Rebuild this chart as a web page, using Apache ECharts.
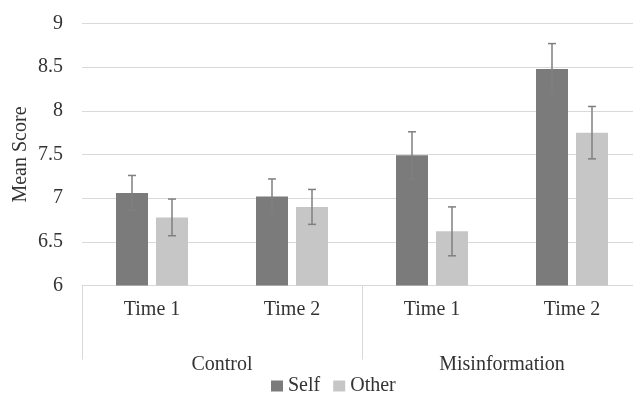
<!DOCTYPE html>
<html>
<head>
<meta charset="utf-8">
<script src="https://cdn.jsdelivr.net/npm/echarts@6/dist/echarts.min.js"></script>
<style>
html,body{margin:0;padding:0;background:#fff;}
#chart{width:633px;height:394px;}
</style>
</head>
<body>
<div id="chart"></div>
<script>
const categories = ['Time 1', 'Time 2', 'Time 1', 'Time 2'];
const groups = ['Control', 'Misinformation'];
const seriesNames = ['Self', 'Other'];
const selfValues = [7.06, 7.02, 7.49, 8.48];
const otherValues = [6.78, 6.90, 6.62, 7.75];
const selfErrors = [0.20, 0.20, 0.27, 0.29];
const otherErrors = [0.21, 0.20, 0.28, 0.30];
const yMin = 6, yMax = 9, yInterval = 0.5;

const FONT = 'Liberation Serif';
const TEXT = '#333333';
const GRID = '#d9d9d9';
const BAR_W = 32;
const BAR_GAP = 0.25;
const OFFSET = (BAR_W + BAR_W * BAR_GAP) / 2;

function errorSeries(name, values, errors, dir) {
  return {
    type: 'custom',
    name: name,
    xAxisIndex: 0,
    yAxisIndex: 0,
    silent: true,
    z: 10,
    data: values.map((v, i) => [i, v - errors[i], v + errors[i]]),
    encode: { x: 0, y: [1, 2] },
    renderItem: function (params, api) {
      const lo = api.coord([api.value(0), api.value(1)]);
      const hi = api.coord([api.value(0), api.value(2)]);
      const x = lo[0] + dir * OFFSET;
      const style = { stroke: '#7f7f7f', lineWidth: 1.5 };
      return {
        type: 'group',
        children: [
          { type: 'line', shape: { x1: x, y1: lo[1], x2: x, y2: hi[1] }, style: style },
          { type: 'line', shape: { x1: x - 4, y1: lo[1], x2: x + 4, y2: lo[1] }, style: style },
          { type: 'line', shape: { x1: x - 4, y1: hi[1], x2: x + 4, y2: hi[1] }, style: style }
        ]
      };
    }
  };
}

const chart = echarts.init(document.getElementById('chart'), null, { renderer: 'canvas' });
chart.setOption({
  backgroundColor: '#ffffff',
  animation: false,
  textStyle: { fontFamily: FONT },
  grid: { left: 82, top: 23.5, width: 560, height: 262, containLabel: false, outerBoundsMode: 'none' },
  legend: {
    data: seriesNames,
    left: 266,
    top: 371,
    icon: 'rect',
    itemWidth: 12,
    itemHeight: 11,
    itemGap: 13,
    textStyle: { fontFamily: FONT, fontSize: 20, color: TEXT }
  },
  xAxis: [
    {
      type: 'category',
      data: categories,
      position: 'bottom',
      axisLine: { show: true, lineStyle: { color: GRID, width: 1 } },
      axisTick: { show: false },
      axisLabel: { margin: 14, fontFamily: FONT, fontSize: 20, color: TEXT }
    },
    {
      type: 'category',
      data: groups,
      position: 'bottom',
      boundaryGap: true,
      axisLine: { show: false },
      axisTick: { show: true, length: 74, lineStyle: { color: GRID, width: 1 } },
      axisLabel: { margin: 69, fontFamily: FONT, fontSize: 20, color: TEXT },
      splitLine: { show: false }
    }
  ],
  yAxis: {
    type: 'value',
    min: yMin,
    max: yMax,
    interval: yInterval,
    name: 'Mean Score',
    nameLocation: 'middle',
    nameRotate: 90,
    nameGap: 51,
    nameMoveOverlap: false,
    nameTextStyle: { fontFamily: FONT, fontSize: 20, color: TEXT },
    axisLine: { show: false },
    axisTick: { show: false },
    axisLabel: { margin: 19, fontFamily: FONT, fontSize: 20, color: TEXT },
    splitLine: { lineStyle: { color: GRID, width: 1 } }
  },
  series: [
    {
      name: seriesNames[0],
      type: 'bar',
      data: selfValues,
      barWidth: BAR_W,
      barGap: (BAR_GAP * 100) + '%',
      itemStyle: { color: '#7b7b7b' }
    },
    {
      name: seriesNames[1],
      type: 'bar',
      data: otherValues,
      barWidth: BAR_W,
      barGap: (BAR_GAP * 100) + '%',
      itemStyle: { color: '#c6c6c6' }
    },
    errorSeries('Self error', selfValues, selfErrors, -1),
    errorSeries('Other error', otherValues, otherErrors, 1)
  ]
});
</script>
</body>
</html>
